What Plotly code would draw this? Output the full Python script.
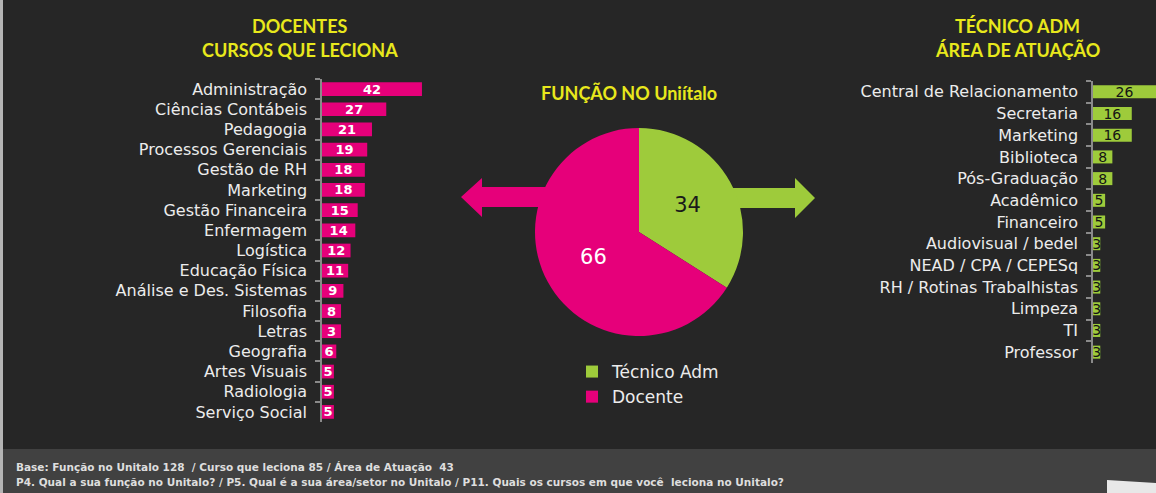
import plotly.graph_objects as go

W, H = 1156, 493

# === Dados ===
cursos = ["Administração", "Ciências Contábeis", "Pedagogia", "Processos Gerenciais",
          "Gestão de RH", "Marketing", "Gestão Financeira", "Enfermagem", "Logística",
          "Educação Física", "Análise e Des. Sistemas", "Filosofia", "Letras", "Geografia",
          "Artes Visuais", "Radiologia", "Serviço Social"]
cursos_vals = [42, 27, 21, 19, 18, 18, 15, 14, 12, 11, 9, 8, 8, 6, 5, 5, 5]
cursos_text = ["42", "27", "21", "19", "18", "18", "15", "14", "12", "11", "9", "8", "3", "6", "5", "5", "5"]

areas = ["Central de Relacionamento", "Secretaria", "Marketing", "Biblioteca", "Pós-Graduação",
         "Acadêmico", "Financeiro", "Audiovisual / bedel", "NEAD / CPA / CEPESq",
         "RH / Rotinas Trabalhistas", "Limpeza", "TI", "Professor"]
areas_vals = [26, 16, 16, 8, 8, 5, 5, 3, 3, 3, 3, 3, 3]

funcao = ["Técnico Adm", "Docente"]
funcao_vals = [34, 66]

PINK = "#e6007a"
GREEN = "#9ecb3b"
YELLOW = "#e8e81c"
BG = "#262626"


def px(x):
    return x / W


def py(y):
    return 1 - y / H


fig = go.Figure()

# === Barras: docentes ===
fig.add_trace(go.Bar(
    x=cursos_vals, y=cursos, orientation="h",
    marker=dict(color=PINK, line=dict(width=0)),
    width=0.68,
    text=cursos_text, textposition="inside", insidetextanchor="middle",
    constraintext="none", textangle=0,
    textfont=dict(family="DejaVu Sans", size=13, color="white", weight="bold"),
    xaxis="x", yaxis="y", showlegend=False, hoverinfo="x+y"
))

# === Barras: técnico adm ===
fig.add_trace(go.Bar(
    x=areas_vals, y=areas, orientation="h",
    marker=dict(color=GREEN, line=dict(width=0)),
    width=0.6,
    text=areas_vals, textposition="inside", insidetextanchor="middle",
    constraintext="none", textangle=0,
    textfont=dict(family="DejaVu Sans", size=14, color="#141414"),
    xaxis="x2", yaxis="y2", showlegend=False, hoverinfo="x+y"
))

# === Pizza ===
fig.add_trace(go.Pie(
    labels=funcao, values=funcao_vals, sort=False, direction="clockwise",
    marker=dict(colors=[GREEN, PINK], line=dict(width=0)),
    textinfo="value", textposition="inside",
    textfont=dict(family="DejaVu Sans", size=21, color=["#1a1a1a", "white"]),
    domain=dict(x=[px(535), px(743)], y=[py(336), py(128)]),
    hoverinfo="label+value"
))

axis_y = dict(
    type="category", autorange="reversed", showline=True, linecolor="#8a8a8a",
    linewidth=1.5, ticks="outside", tickson="boundaries", ticklen=5,
    tickcolor="#8a8a8a", tickwidth=1.5, showgrid=False, zeroline=False,
    tickfont=dict(family="DejaVu Sans", size=16, color="#ececec"),
    ticklabelstandoff=10, fixedrange=True
)
axis_x = dict(visible=False, showgrid=False, zeroline=False, fixedrange=True)

fig.update_layout(
    width=W, height=H,
    margin=dict(l=0, r=0, t=0, b=0),
    paper_bgcolor=BG, plot_bgcolor="rgba(0,0,0,0)",
    xaxis=dict(axis_x, domain=[px(322), px(441)], range=[0, 50], anchor="y"),
    yaxis=dict(axis_y, domain=[py(422), py(79)], anchor="x"),
    xaxis2=dict(axis_x, domain=[px(1093), 1], range=[0, 26], anchor="y2"),
    yaxis2=dict(axis_y, domain=[py(363), py(81)], anchor="x2"),
    legend=dict(x=px(572), y=py(354), xanchor="left", yanchor="top",
                bgcolor="rgba(0,0,0,0)",
                font=dict(family="DejaVu Sans", size=17, color="#ececec")),
    bargap=0.3,
)

# === Setas e fundo ===
left_arrow = (f"M{px(461)},{py(197)} L{px(482)},{py(178)} L{px(482)},{py(187)} "
              f"L{px(600)},{py(187)} L{px(600)},{py(207)} L{px(482)},{py(207)} "
              f"L{px(482)},{py(217)} Z")
right_arrow = (f"M{px(815)},{py(198)} L{px(795)},{py(178)} L{px(795)},{py(188)} "
               f"L{px(680)},{py(188)} L{px(680)},{py(208)} L{px(795)},{py(208)} "
               f"L{px(795)},{py(218)} Z")
corner = (f"M{px(1107)},{py(480)} L1,{py(483)} L1,0 L{px(1107)},0 Z")

fig.update_layout(shapes=[
    dict(type="rect", xref="paper", yref="paper", x0=0, x1=1, y0=0, y1=py(449),
         fillcolor="#414141", line=dict(width=0), layer="below"),
    dict(type="rect", xref="paper", yref="paper", x0=0, x1=px(3), y0=0, y1=1,
         fillcolor="#b4b4b4", line=dict(width=0), layer="below"),
    dict(type="path", xref="paper", yref="paper", path=corner,
         fillcolor="#e8e8e8", line=dict(width=0), layer="below"),
    dict(type="path", xref="paper", yref="paper", path=left_arrow,
         fillcolor=PINK, line=dict(width=0), layer="below"),
    dict(type="path", xref="paper", yref="paper", path=right_arrow,
         fillcolor=GREEN, line=dict(width=0), layer="below"),
])

# === Títulos e rodapé ===
title_font = dict(family="Lato", size=18, color=YELLOW, weight="bold")
notes = [
    ("DOCENTES", 300, 26, title_font),
    ("CURSOS QUE LECIONA", 300, 50, title_font),
    ("TÉCNICO ADM", 1017, 26, title_font),
    ("ÁREA DE ATUAÇÃO", 1017, 50, title_font),
    ("FUNÇÃO NO Uniítalo", 629, 93, title_font),
]
for txt, x, y, f in notes:
    fig.add_annotation(text=txt, x=px(x), y=py(y), xref="paper", yref="paper",
                       xanchor="center", yanchor="middle", showarrow=False, font=f)

foot_font = dict(family="DejaVu Sans", size=10.5, color="#dedede", weight="bold")
footer = [
    ("Base: Função no Unitalo 128  / Curso que leciona 85 / Área de Atuação  43", 467),
    ("P4. Qual a sua função no Unitalo? / P5. Qual é a sua área/setor no Unitalo / "
     "P11. Quais os cursos em que você  leciona no Unitalo?", 482),
]
for txt, y in footer:
    fig.add_annotation(text=txt, x=px(14), y=py(y), xref="paper", yref="paper",
                       xanchor="left", yanchor="middle", showarrow=False, font=foot_font)

fig.write_html("out.html", config={"displayModeBar": False},
               post_script="document.body.style.margin='0';")
